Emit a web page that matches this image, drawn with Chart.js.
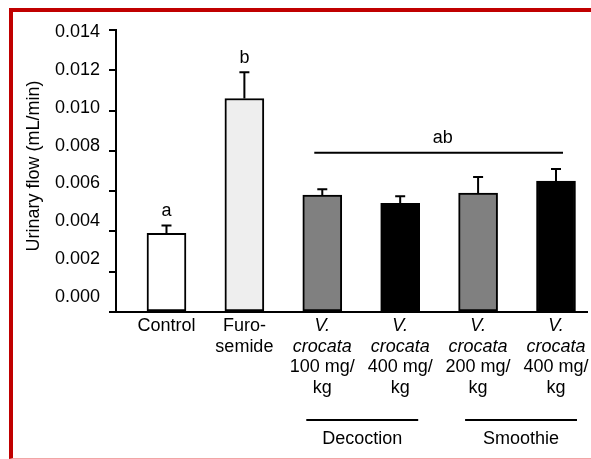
<!DOCTYPE html>
<html>
<head>
<meta charset="utf-8">
<script src="https://cdn.jsdelivr.net/npm/chart.js@4.4.0/dist/chart.umd.min.js"></script>
<style>
body{margin:0;background:#fff;}
#wrap{position:relative;width:591px;height:459px;overflow:hidden;background:#fff;}
#frame{position:absolute;left:9px;top:8px;width:620px;height:446px;border-top:4px solid #c00000;border-left:4px solid #c00000;border-bottom:1px solid #f2a5a5;pointer-events:none;}
canvas{position:absolute;left:0;top:0;}
</style>
</head>
<body>
<div id="wrap">
  <canvas id="flowChart" width="591" height="459"></canvas>
  <div id="frame"></div>
</div>
<script>
// urinary flow per group (mL/min), mean and error
var groups = ['Control', 'Furosemide', 'Vc decoction 100', 'Vc decoction 400', 'Vc smoothie 200', 'Vc smoothie 400'];
var flow = [0.0039, 0.0106, 0.0058, 0.0054, 0.0059, 0.0065];
var flowErr = [0.0004, 0.0013, 0.0003, 0.00035, 0.0008, 0.0006];
var letters = ['a', 'b', '', '', '', ''];
var yTicks = [0, 0.002, 0.004, 0.006, 0.008, 0.010, 0.012, 0.014];
var yTickLabels = ['0.000', '0.002', '0.004', '0.006', '0.008', '0.010', '0.012', '0.014'];
// label lines, [text, italic]
var xLabels = [
  [['Control', false]],
  [['Furo-', false], ['semide', false]],
  [['V.', true], ['crocata', true], ['100 mg/', false], ['kg', false]],
  [['V.', true], ['crocata', true], ['400 mg/', false], ['kg', false]],
  [['V.', true], ['crocata', true], ['200 mg/', false], ['kg', false]],
  [['V.', true], ['crocata', true], ['400 mg/', false], ['kg', false]]
];
var abLetter = 'ab';
var abFrom = 2, abTo = 5, abLevel = 0.0079;
var preparations = ['Decoction', 'Smoothie'];
var prepFrom = [2, 4], prepTo = [3, 5];

var fills = ['#ffffff', '#eeeeee', '#808080', '#000000', '#808080', '#000000'];
var FONT = '"Liberation Sans", Arial, sans-serif';
var FS = '18px ';

var extras = {
  id: 'extras',
  afterDatasetsDraw: function(chart) {
    var ctx = chart.ctx;
    var xs = chart.scales.x, ys = chart.scales.y;
    var area = chart.chartArea;
    ctx.save();
    ctx.strokeStyle = '#000';
    ctx.fillStyle = '#000';
    ctx.lineWidth = 2;
    ctx.textAlign = 'center';
    ctx.textBaseline = 'middle';
    // error bars + letters
    for (var i = 0; i < flow.length; i++) {
      var x = xs.getPixelForValue(i);
      var yb = ys.getPixelForValue(flow[i]);
      var ye = ys.getPixelForValue(flow[i] + flowErr[i]);
      ctx.beginPath();
      ctx.moveTo(x, yb); ctx.lineTo(x, ye);
      ctx.moveTo(x - 5, ye); ctx.lineTo(x + 5, ye);
      ctx.stroke();
      if (letters[i]) {
        ctx.font = FS + FONT;
        ctx.fillText(letters[i], x, ye - 14);
      }
    }
    // "ab" line over the plant groups
    var ly = ys.getPixelForValue(abLevel);
    var lx1 = xs.getPixelForValue(abFrom) - 8, lx2 = xs.getPixelForValue(abTo) + 7;
    ctx.beginPath();
    ctx.moveTo(lx1, ly); ctx.lineTo(lx2, ly);
    ctx.stroke();
    ctx.font = FS + FONT;
    ctx.fillText(abLetter, (lx1 + lx2) / 2 + 4, ly - 15);

    // x labels
    for (var i = 0; i < xLabels.length; i++) {
      var x = xs.getPixelForValue(i);
      for (var j = 0; j < xLabels[i].length; j++) {
        ctx.font = (xLabels[i][j][1] ? 'italic ' : '') + FS + FONT;
        ctx.fillText(xLabels[i][j][0], x, area.bottom + 14 + j * 20.7);
      }
    }
    // Decoction / Smoothie brackets
    for (var k = 0; k < preparations.length; k++) {
      var gx1 = xs.getPixelForValue(prepFrom[k]) - 16 + k * 3;
      var gx2 = xs.getPixelForValue(prepTo[k]) + 18 + k * 3;
      ctx.beginPath();
      ctx.moveTo(gx1, area.bottom + 108); ctx.lineTo(gx2, area.bottom + 108);
      ctx.stroke();
      ctx.font = FS + FONT;
      ctx.fillText(preparations[k], (gx1 + gx2) / 2, area.bottom + 127);
    }

    // y tick labels (slightly tighter than the ticks, as in the figure)
    ctx.textAlign = 'right';
    for (var t = 0; t < yTicks.length; t++) {
      var py = ys.getPixelForValue(yTicks[t]);
      ctx.fillText(yTickLabels[t], 100, area.top + 2 + (py - area.top) * 0.94);
    }
    // y title
    ctx.translate(34, 166);
    ctx.rotate(-Math.PI / 2);
    ctx.textAlign = 'center';
    ctx.fillText('Urinary flow (mL/min)', 0, 0);
    ctx.restore();
  }
};

var barData = [];
for (var i = 0; i < flow.length; i++) {
  barData.push({x: i, y: flow[i]});
}

var flowChart = new Chart(document.getElementById('flowChart'), {
  type: 'bar',
  data: {
    labels: groups,
    datasets: [{
      data: barData,
      backgroundColor: fills,
      borderColor: '#000',
      borderWidth: 2,
      borderSkipped: false,
      barThickness: 39
    }]
  },
  options: {
    responsive: false,
    animation: false,
    layout: {padding: {top: 30, right: 4, left: 0, bottom: 0}},
    plugins: {legend: {display: false}, tooltip: {enabled: false}},
    scales: {
      x: {
        type: 'linear',
        offset: false,
        min: -0.648,
        max: 5.398,
        grid: {display: false, offset: false},
        ticks: {display: false},
        border: {display: true, color: '#000', width: 2},
        afterFit: function(s) { s.height = 147; }
      },
      y: {
        min: 0,
        max: 0.014,
        ticks: {display: false, stepSize: 0.002},
        grid: {drawOnChartArea: false, drawTicks: true, tickLength: 7, color: '#000', lineWidth: 2},
        border: {display: true, color: '#000', width: 2},
        afterFit: function(s) { s.width = 116; }
      }
    }
  },
  plugins: [extras]
});
</script>
</body>
</html>
